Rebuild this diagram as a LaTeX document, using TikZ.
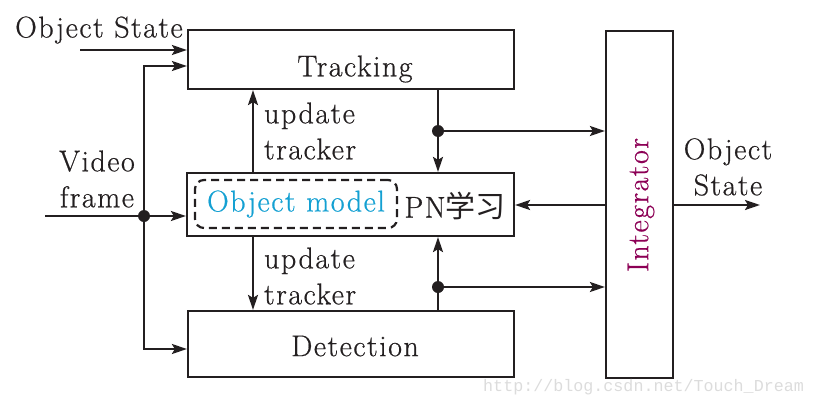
\documentclass[tikz,border=0pt]{standalone}
\usepackage{fontspec}
\setmainfont{Latin Modern Roman}[LetterSpace=5, FakeBold=0.6]
\newfontfamily\cjk{Noto Sans CJK SC}
\newfontfamily\wmfont{Liberation Mono}
\usetikzlibrary{arrows.meta}
\definecolor{ink}{RGB}{35,31,32}
\definecolor{cyanT}{RGB}{20,160,210}
\definecolor{magT}{RGB}{140,0,85}
\definecolor{wm}{RGB}{220,220,220}
\begin{document}
\begin{tikzpicture}[x=1pt,y=-1pt,
  line width=2.2pt,
  every node/.style={font=\fontsize{30}{36}\selectfont, text=ink, inner sep=0pt},
  blk/.style={draw=ink, line width=2.2pt, rectangle},
  arr/.style={draw=ink, line width=2.2pt, -{Stealth[length=15pt,width=10pt,inset=3pt]}},
  jdot/.style={fill=ink, circle, minimum size=12pt, inner sep=0pt}
]
\useasboundingbox (0,0) rectangle (814,407);

% blocks
\node[blk, minimum width=326pt, minimum height=59pt] (trk) at (351,59.5) {};
\node (trklbl) at (355,69) {Tracking};
\node[blk, minimum width=327pt, minimum height=63pt] (mid) at (350.5,204.5) {};
\node[draw=ink, dashed, dash pattern=on 8pt off 5pt, rounded corners=9pt, minimum width=202pt, minimum height=48pt, text=cyanT] (om) at (296,204) {Object model};
\node (pn) at (455,206) {PN{\cjk 学习}};
\node[blk, minimum width=326pt, minimum height=66pt] (det) at (351,344) {};
\node (detlbl) at (355,346) {Detection};
\node[blk, minimum width=67pt, minimum height=347pt] (integ) at (639.5,204.5) {};
\node[rotate=90, text=magT] (intlbl) at (641,205) {Integrator};

% labels
\node (osl) at (99,30) {Object State};
\node[align=center] (vfl) at (97,179) {Video\\frame};
\node[align=left, anchor=west] (ut1) at (263,131) {update\\tracker};
\node[align=left, anchor=west] (ut2) at (263,276) {update\\tracker};
\node[align=center] (osr) at (728,167) {Object\\State};

% helper coordinates
\coordinate (osin) at (80,50);
\coordinate (vf) at (45,216);
\coordinate (j1) at (144,216);
\coordinate (ty) at (0,66);
\coordinate (dy) at (0,349);
\coordinate (ux) at (253,0);
\coordinate (rx) at (438,0);
\coordinate (cy) at (0,205);
\coordinate (out) at (760,205);
\node[jdot] (d1) at (j1) {};
\node[jdot] (d2) at (438,131) {};
\node[jdot] (d3) at (438,287) {};

% connectors
\draw[arr] (osin) -- (osin -| trk.west);
\draw[arr] (vf) -- (vf -| mid.west);
\draw[arr] (d1.center) |- (ty -| trk.west);
\draw[arr] (d1.center) |- (dy -| det.west);
\draw[arr] (ux |- mid.north) -- (ux |- trk.south);
\draw[arr] (ux |- mid.south) -- (ux |- det.north);
\draw[arr] (rx |- trk.south) -- (rx |- mid.north);
\draw[arr] (d2.center) -- (d2 -| integ.west);
\draw[arr] (rx |- det.north) -- (rx |- mid.south);
\draw[arr] (d3.center) -- (d3 -| integ.west);
\draw[arr] (cy -| integ.west) -- (cy -| mid.east);
\draw[arr] (cy -| integ.east) -- (out);

% watermark
\node[font=\wmfont\fontsize{16.7}{20}\selectfont, text=wm, anchor=east] (wmk) at (805,387) {http://blog.csdn.net/Touch\_Dream};
\end{tikzpicture}
\end{document}
